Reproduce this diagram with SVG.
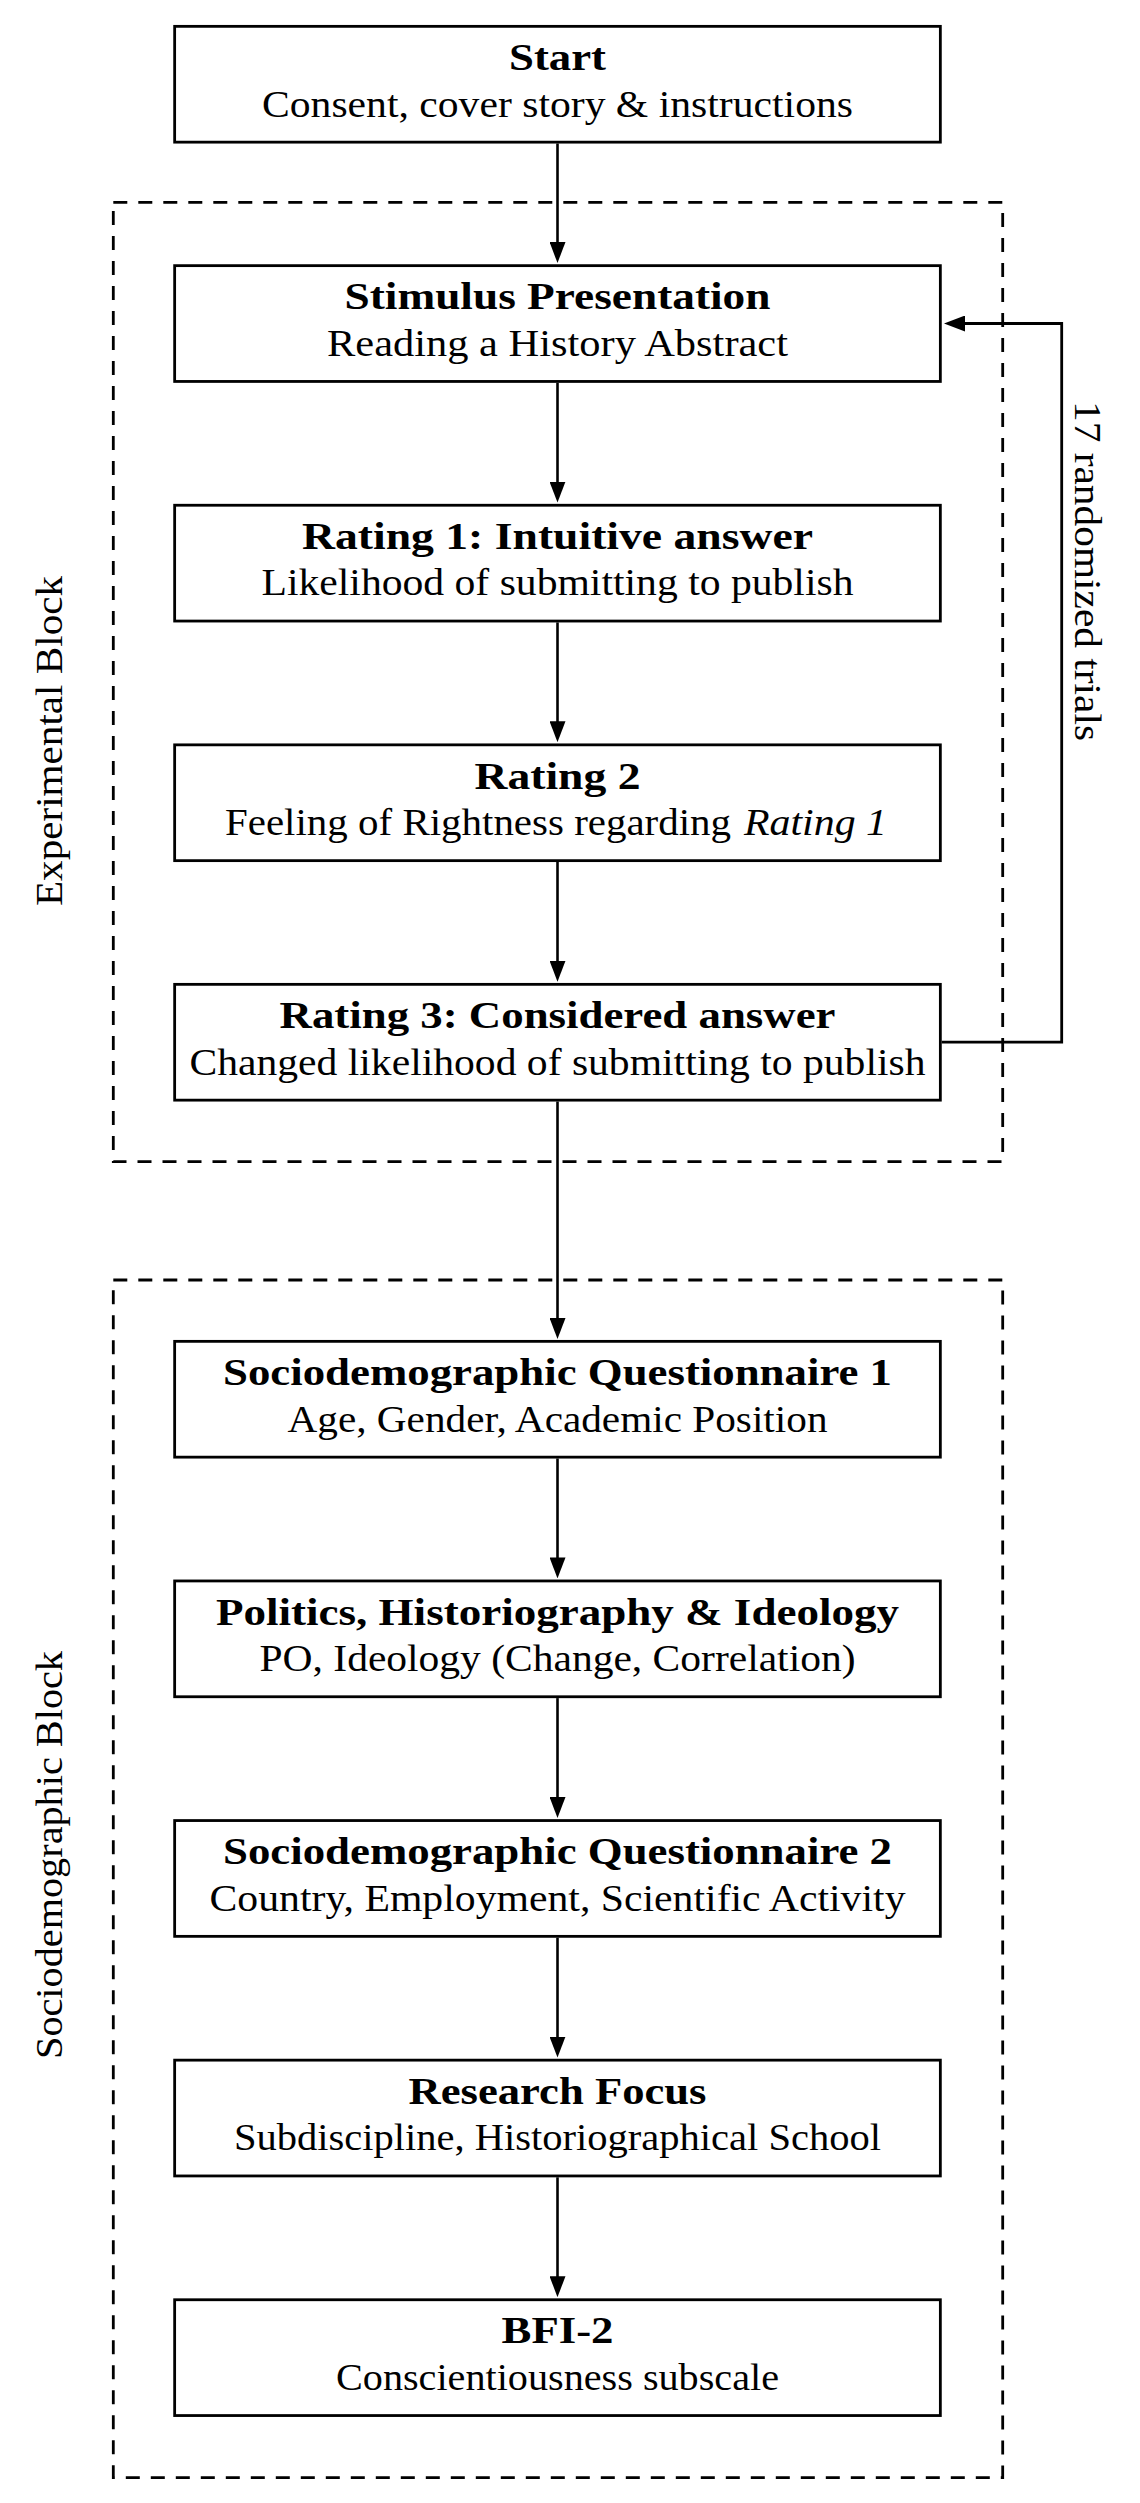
<svg xmlns="http://www.w3.org/2000/svg" width="1140" height="2503" viewBox="0 0 1140 2503">
<style>
text{font-family:'Liberation Serif','DejaVu Serif',serif;font-size:38px;fill:#000}
.t{font-weight:bold;text-anchor:middle}
.s{text-anchor:middle}
.box{fill:#fff;stroke:#000;stroke-width:2.8}
.blk{fill:none;stroke:#000;stroke-width:2.8;stroke-dasharray:14 11}
.con{fill:none;stroke:#000;stroke-width:2.6;marker-end:url(#ah)}
</style>
<defs>
<marker id="ah" viewBox="0 0 21 16" refX="11" refY="8" markerWidth="21" markerHeight="16" markerUnits="userSpaceOnUse" orient="auto">
<path d="M0,0 L21,8 L0,16 Z" fill="#000"/>
</marker>
</defs>
<g id="experimental-block">
<rect class="blk" x="113.3" y="202.3" width="889.4" height="959.4"/>
<text transform="translate(62,741) rotate(-90)" class="s" textLength="330" lengthAdjust="spacingAndGlyphs">Experimental Block</text>
</g>
<g id="sociodemographic-block">
<rect class="blk" x="113.3" y="1280" width="889.4" height="1197.7"/>
<text transform="translate(62,1855) rotate(-90)" class="s" textLength="408" lengthAdjust="spacingAndGlyphs">Sociodemographic Block</text>
</g>
<g id="connectors">
<path class="con" d="M557.5,143.5 V253"/>
<path class="con" d="M557.5,382.8 V492.6"/>
<path class="con" d="M557.5,622.4 V732.2"/>
<path class="con" d="M557.5,862 V971.8"/>
<path class="con" d="M557.5,1101.5 V1329"/>
<path class="con" d="M557.5,1458.5 V1568.4"/>
<path class="con" d="M557.5,1698.1 V1808"/>
<path class="con" d="M557.5,1937.7 V2047.6"/>
<path class="con" d="M557.5,2177.3 V2287.2"/>
<path class="con" style="stroke-width:2.8" d="M941.7,1042.2 H1061.7 V323.5 H954"/>
<text transform="translate(1075,571) rotate(90)" class="s" textLength="340" lengthAdjust="spacingAndGlyphs">17 randomized trials</text>
</g>
<g id="start">
<rect class="box" x="174.65" y="26.35" width="765.7" height="115.8"/>
<text class="t" x="557.5" y="70" textLength="97" lengthAdjust="spacingAndGlyphs">Start</text>
<text class="s" x="557.5" y="116.5" textLength="591" lengthAdjust="spacingAndGlyphs">Consent, cover story &amp; instructions</text>
</g>
<g id="stimulus">
<rect class="box" x="174.65" y="265.65" width="765.7" height="115.8"/>
<text class="t" x="557.5" y="309.3" textLength="426" lengthAdjust="spacingAndGlyphs">Stimulus Presentation</text>
<text class="s" x="557.5" y="355.8" textLength="461" lengthAdjust="spacingAndGlyphs">Reading a History Abstract</text>
</g>
<g id="rating1">
<rect class="box" x="174.65" y="505.25" width="765.7" height="115.8"/>
<text class="t" x="557.5" y="548.9" textLength="511" lengthAdjust="spacingAndGlyphs">Rating 1: Intuitive answer</text>
<text class="s" x="557.5" y="595.4" textLength="592" lengthAdjust="spacingAndGlyphs">Likelihood of submitting to publish</text>
</g>
<g id="rating2">
<rect class="box" x="174.65" y="744.85" width="765.7" height="115.8"/>
<text class="t" x="557.5" y="788.5" textLength="166" lengthAdjust="spacingAndGlyphs">Rating 2</text>
<text x="225" y="835" textLength="506" lengthAdjust="spacingAndGlyphs">Feeling of Rightness regarding</text>
<text x="744" y="835" style="font-style:italic" textLength="143" lengthAdjust="spacingAndGlyphs">Rating 1</text>
</g>
<g id="rating3">
<rect class="box" x="174.65" y="984.35" width="765.7" height="115.8"/>
<text class="t" x="557.5" y="1028" textLength="556" lengthAdjust="spacingAndGlyphs">Rating 3: Considered answer</text>
<text class="s" x="557.5" y="1074.5" textLength="736" lengthAdjust="spacingAndGlyphs">Changed likelihood of submitting to publish</text>
</g>
<g id="socio1">
<rect class="box" x="174.65" y="1341.35" width="765.7" height="115.8"/>
<text class="t" x="557.5" y="1385" textLength="669" lengthAdjust="spacingAndGlyphs">Sociodemographic Questionnaire 1</text>
<text class="s" x="557.5" y="1431.5" textLength="540" lengthAdjust="spacingAndGlyphs">Age, Gender, Academic Position</text>
</g>
<g id="politics">
<rect class="box" x="174.65" y="1580.95" width="765.7" height="115.8"/>
<text class="t" x="557.5" y="1624.6" textLength="683" lengthAdjust="spacingAndGlyphs">Politics, Historiography &amp; Ideology</text>
<text class="s" x="557.5" y="1671.1" textLength="596" lengthAdjust="spacingAndGlyphs">PO, Ideology (Change, Correlation)</text>
</g>
<g id="socio2">
<rect class="box" x="174.65" y="1820.55" width="765.7" height="115.8"/>
<text class="t" x="557.5" y="1864.2" textLength="669" lengthAdjust="spacingAndGlyphs">Sociodemographic Questionnaire 2</text>
<text class="s" x="557.5" y="1910.7" textLength="696" lengthAdjust="spacingAndGlyphs">Country, Employment, Scientific Activity</text>
</g>
<g id="research-focus">
<rect class="box" x="174.65" y="2060.15" width="765.7" height="115.8"/>
<text class="t" x="557.5" y="2103.8" textLength="298" lengthAdjust="spacingAndGlyphs">Research Focus</text>
<text class="s" x="557.5" y="2150.3" textLength="647" lengthAdjust="spacingAndGlyphs">Subdiscipline, Historiographical School</text>
</g>
<g id="bfi2">
<rect class="box" x="174.65" y="2299.75" width="765.7" height="115.8"/>
<text class="t" x="557.5" y="2343.4" textLength="112" lengthAdjust="spacingAndGlyphs">BFI-2</text>
<text class="s" x="557.5" y="2389.9" textLength="443" lengthAdjust="spacingAndGlyphs">Conscientiousness subscale</text>
</g>
</svg>
